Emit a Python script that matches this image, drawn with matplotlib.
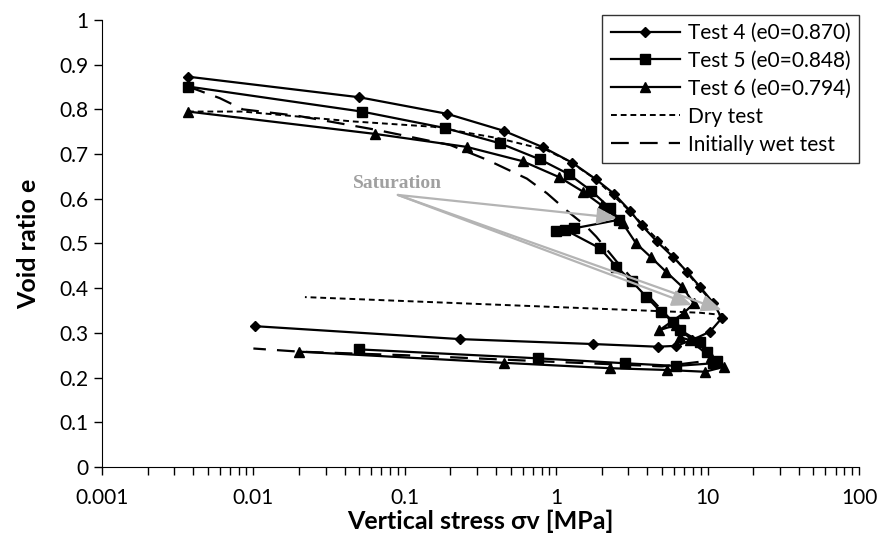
import matplotlib.pyplot as plt
from matplotlib.ticker import LogLocator, FixedLocator, NullFormatter

plt.rcParams['font.family'] = ['Lato', 'DejaVu Sans']

# Test 4 (diamonds): loading then unloading
s4 = [0.0037, 0.05, 0.19, 0.45, 0.82, 1.27, 1.82, 2.41, 3.07, 3.66, 4.6, 5.9, 7.3, 8.9, 10.9, 12.4,
      10.4, 7.9, 6.2, 4.67, 1.75, 0.232, 0.0102]
e4 = [0.873, 0.827, 0.79, 0.752, 0.715, 0.681, 0.644, 0.611, 0.573, 0.541, 0.505, 0.47, 0.437, 0.403, 0.367, 0.333,
      0.303, 0.284, 0.271, 0.269, 0.275, 0.286, 0.315]

# Test 5 (squares)
s5 = [0.0037, 0.052, 0.185, 0.425, 0.78, 1.21, 1.7, 2.27, 2.6, 1.32, 1.0, 1.15,
      1.95, 2.5, 3.16, 3.93, 4.9, 5.9, 6.6, 8.9, 9.9, 11.5,
      10.9, 6.2, 2.85, 0.76, 0.05]
e5 = [0.851, 0.795, 0.758, 0.724, 0.688, 0.655, 0.618, 0.579, 0.553, 0.534, 0.527, 0.530,
      0.489, 0.448, 0.415, 0.381, 0.347, 0.325, 0.306, 0.28, 0.258, 0.236,
      0.232, 0.226, 0.232, 0.243, 0.263]

# Test 6 (triangles)
s6 = [0.0037, 0.0636, 0.256, 0.6, 1.05, 1.5, 2.0, 2.75, 3.37, 4.2, 5.3, 6.8, 8.1,
      7.0, 4.8, 6.2, 6.6, 7.6, 10.5, 12.8,
      9.6, 5.36, 2.25, 0.45, 0.02]
e6 = [0.795, 0.745, 0.716, 0.684, 0.648, 0.616, 0.585, 0.545, 0.5, 0.47, 0.437, 0.403, 0.366,
      0.345, 0.306, 0.318, 0.29, 0.284, 0.245, 0.224,
      0.213, 0.217, 0.221, 0.233, 0.258]

# Dry test
s_dry = [0.0037, 0.0085, 0.045, 0.154, 0.42, 0.86, 1.2, 1.8, 2.9, 3.9, 5.5, 7.5, 10, 12.5, 8.9, 0.0219]
e_dry = [0.795, 0.795, 0.773, 0.761, 0.735, 0.709, 0.685, 0.645, 0.58, 0.535, 0.485, 0.43, 0.38, 0.34, 0.345, 0.38]

# Initially wet test
s_wet = [0.0037, 0.006, 0.0085, 0.02, 0.065, 0.2, 0.35, 0.64, 0.87, 1.16, 1.58, 1.84, 2.5, 3.2, 4.0, 5.0, 6.5, 9.0, 11.5,
         5.0, 1.0, 0.1, 0.02, 0.01]
e_wet = [0.851, 0.825, 0.80, 0.785, 0.754, 0.72, 0.687, 0.645, 0.612, 0.575, 0.538, 0.515, 0.46, 0.42, 0.385, 0.35, 0.31, 0.265, 0.24,
         0.225, 0.235, 0.25, 0.258, 0.265]

# saturation arrows: label position and targets
sat_xy = (0.09, 0.6085)
sat_targets = [(2.52, 0.557), (7.88, 0.362), (12.4, 0.351)]

fig, ax = plt.subplots(figsize=(8.82, 5.38), dpi=100)
fig.subplots_adjust(left=0.1156, right=0.974, bottom=0.132, top=0.963)

ax.plot(s4, e4, color='black', lw=1.6, marker='D', markersize=5, label='Test 4 (e0=0.870)')
ax.plot(s5, e5, color='black', lw=1.6, marker='s', markersize=7, label='Test 5 (e0=0.848)')
ax.plot(s6, e6, color='black', lw=1.6, marker='^', markersize=7, label='Test 6 (e0=0.794)')
ax.plot(s_dry, e_dry, color='black', lw=1.4, dashes=(3, 2), label='Dry test')
ax.plot(s_wet, e_wet, color='black', lw=1.6, dashes=(8, 5), label='Initially wet test')

for tx, ty in sat_targets:
    ax.annotate('', xy=(tx, ty), xytext=sat_xy,
                arrowprops=dict(arrowstyle='-|>,head_length=1.2,head_width=0.5',
                                color='#b4b4b4', lw=1.6, shrinkA=0, shrinkB=0))
ax.text(0.09, 0.615, 'Saturation', ha='center', va='bottom', color='#a0a0a0',
        family='Liberation Serif', fontweight='bold', fontsize=14)

ax.set_xscale('log')
ax.set_xlim(0.001, 100)
ax.set_ylim(0, 1)
ax.xaxis.set_minor_locator(LogLocator(base=10, subs=range(2, 10), numticks=20))
ax.xaxis.set_minor_formatter(NullFormatter())
ax.set_xticks([0.001, 0.01, 0.1, 1, 10, 100])
ax.set_xticklabels(['0.001', '0.01', '0.1', '1', '10', '100'])
yt = [i / 10 for i in range(11)]
ax.yaxis.set_major_locator(FixedLocator(yt))
ax.set_yticklabels(['0'] + ['%.1f' % v for v in yt[1:-1]] + ['1'])

ax.spines['top'].set_visible(False)
ax.spines['right'].set_visible(False)
ax.tick_params(axis='both', which='major', labelsize=15, length=6, width=1, direction='out')
ax.tick_params(axis='x', which='minor', length=6, width=1, direction='out')
ax.tick_params(axis='x', pad=9)

ax.set_xlabel('Vertical stress σv [MPa]', fontsize=18, fontweight='bold', labelpad=1)
ax.set_ylabel('Void ratio e', fontsize=18, fontweight='bold', labelpad=14)

leg = ax.legend(loc='upper right', bbox_to_anchor=(1.0, 1.012), borderaxespad=0, fontsize=15,
                frameon=True, fancybox=False, edgecolor='black', handlelength=3.3, borderpad=0.4,
                labelspacing=0.38, handletextpad=0.4)
leg.get_frame().set_linewidth(1.0)

fig.savefig('out.png', dpi=100)
